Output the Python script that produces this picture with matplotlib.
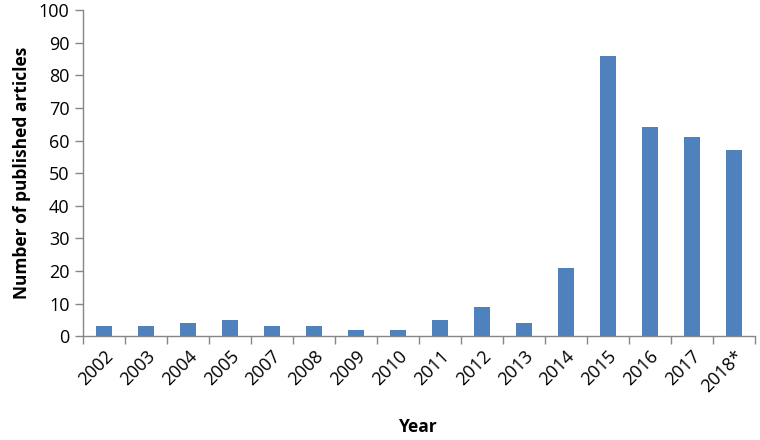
import matplotlib
matplotlib.use('Agg')
import matplotlib.pyplot as plt
import numpy as np

years = ['2002', '2003', '2004', '2005', '2007', '2008', '2009', '2010',
         '2011', '2012', '2013', '2014', '2015', '2016', '2017', '2018*']
articles = [3, 3, 4, 5, 3, 3, 2, 2, 5, 9, 4, 21, 86, 64, 61, 57]

plt.rcParams['font.family'] = ['Open Sans', 'DejaVu Sans']

fig = plt.figure(figsize=(7.6, 4.4), dpi=100)
ax = fig.add_axes([0.109, 0.236, 0.884, 0.741])

x = np.arange(len(years))
ax.bar(x, articles, width=0.38, color='#4F81BD', zorder=2)

ax.set_xlim(-0.5, len(years) - 0.5)
ax.set_ylim(0, 100)
ax.set_yticks(range(0, 101, 10))
ax.set_xticks(x)
ax.set_xticklabels(years, rotation=45, ha='right', rotation_mode='anchor')
ax.set_xticks(np.arange(-0.5, len(years), 1), minor=True)
ax.tick_params(axis='x', which='major', length=0, labelsize=13, pad=8)
ax.tick_params(axis='x', which='minor', length=6, color='#868686', width=1)
ax.tick_params(axis='y', length=6, color='#868686', width=1, labelsize=13)

for s in ['top', 'right']:
    ax.spines[s].set_visible(False)
for s in ['left', 'bottom']:
    ax.spines[s].set_color('#868686')
    ax.spines[s].set_linewidth(1)

ax.set_ylabel('Number of published articles', fontsize=12.5, fontweight='bold', labelpad=6)
ax.set_xlabel('Year', fontsize=12.5, fontweight='bold', labelpad=16)

fig.savefig('out.png', dpi=100)
